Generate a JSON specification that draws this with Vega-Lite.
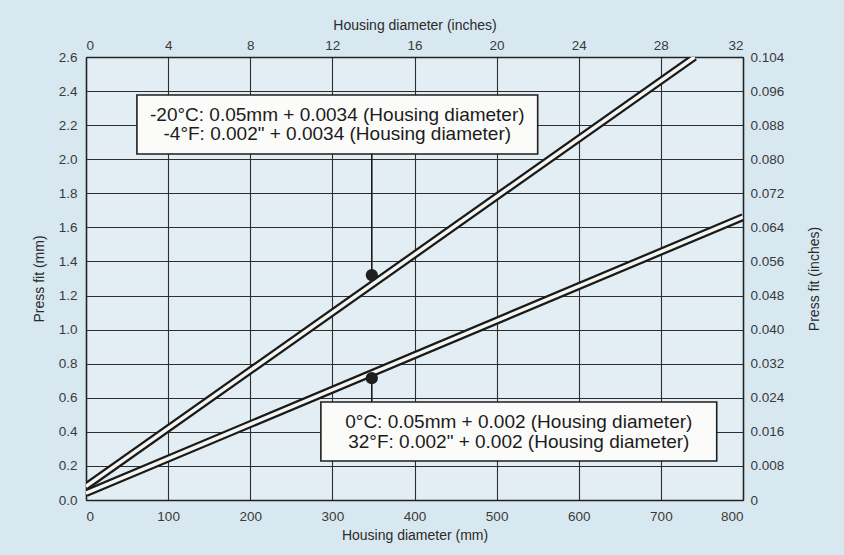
{
  "$schema": "https://vega.github.io/schema/vega-lite/v6.json",
  "width": 657,
  "height": 443,
  "autosize": "none",
  "padding": {"left": 86, "top": 57, "right": 101, "bottom": 55},
  "background": "#d8e8f0",
  "config": {
    "view": {"fill": "#e3eef4", "stroke": null},
    "axis": {
      "ticks": false,
      "labelOverlap": false,
      "labelFont": "Liberation Sans",
      "titleFont": "Liberation Sans",
      "labelFontSize": 13.5,
      "titleFontSize": 14,
      "titleFontWeight": "normal",
      "labelColor": "#3a3a3a",
      "titleColor": "#2a2a2a",
      "domainColor": "#222",
      "domainWidth": 1.5,
      "gridColor": "#2e2e2e",
      "gridWidth": 1.1,
      "gridOpacity": 1
    }
  },
  "layer": [
    {
      "encoding": {
        "x": {"field": "D", "type": "quantitative", "scale": {"domain": [0, 800], "nice": false}, "axis": {"orient": "bottom", "title": "Housing diameter (mm)", "values": [0, 100, 200, 300, 400, 500, 600, 700, 800], "labelPadding": 9, "titlePadding": 6, "grid": true}},
        "y": {"field": "P", "type": "quantitative", "scale": {"domain": [0, 2.6], "nice": false}, "axis": {"orient": "left", "title": "Press fit (mm)", "values": [0, 0.2, 0.4, 0.6, 0.8, 1.0, 1.2, 1.4, 1.6, 1.8, 2.0, 2.2, 2.4, 2.6], "format": ".1f", "labelPadding": 9, "titlePadding": 12, "grid": true}}
      },
      "layer": [
        {
          "data": {"values": [
            {"s": "A", "D": 0, "P": 0.08},
            {"s": "A", "D": 741, "P": 2.6},
            {"s": "B", "D": 0, "P": 0.04},
            {"s": "B", "D": 800, "P": 1.66}
          ]},
          "layer": [
            {
              "mark": {"type": "line", "color": "#1a1a1a", "strokeWidth": 8, "clip": true},
              "encoding": {"detail": {"field": "s"}}
            },
            {
              "mark": {"type": "line", "color": "#f5f6f2", "strokeWidth": 3.5, "clip": true},
              "encoding": {"detail": {"field": "s"}}
            }
          ]
        },
        {
          "data": {"values": [
            {"D": 348, "P": 1.32, "P2": 2.04},
            {"D": 348, "P": 0.715, "P2": 0.575}
          ]},
          "layer": [
            {
              "mark": {"type": "rule", "color": "#1a1a1a", "strokeWidth": 1.6},
              "encoding": {"y2": {"field": "P2"}}
            },
            {
              "mark": {"type": "point", "filled": true, "color": "#1e1e1e", "size": 150, "opacity": 1, "shape": "circle"},
              "encoding": {}
            }
          ]
        },
        {
          "data": {"values": [
            {"D": 62, "D2": 550, "P": 2.031, "P2": 2.377},
            {"D": 286, "D2": 768, "P": 0.229, "P2": 0.575}
          ]},
          "mark": {"type": "rect", "fill": "#fbfbfa", "stroke": "#1e1e1e", "strokeWidth": 1.6},
          "encoding": {
            "x2": {"field": "D2"},
            "y2": {"field": "P2"}
          }
        },
        {
          "data": {"values": [
            {"D": 306, "P": 2.26, "label": "-20°C: 0.05mm + 0.0034 (Housing diameter)"},
            {"D": 306, "P": 2.148, "label": "-4°F: 0.002\" + 0.0034 (Housing diameter)"},
            {"D": 527, "P": 0.458, "label": "0°C: 0.05mm + 0.002 (Housing diameter)"},
            {"D": 527, "P": 0.34, "label": "32°F: 0.002\" + 0.002 (Housing diameter)"}
          ]},
          "mark": {"type": "text", "font": "Liberation Sans", "fontSize": 19, "color": "#1c1c1c", "align": "center", "baseline": "middle"},
          "encoding": {
            "text": {"field": "label"}
          }
        }
      ]
    },
    {
      "data": {"values": [
        {"Din": 0, "Pin": 0},
        {"Din": 32, "Pin": 0.104}
      ]},
      "mark": {"type": "point", "opacity": 0},
      "encoding": {
        "x": {"field": "Din", "type": "quantitative", "scale": {"domain": [0, 32], "nice": false}, "axis": {"orient": "top", "title": "Housing diameter (inches)", "values": [0, 4, 8, 12, 16, 20, 24, 28, 32], "labelPadding": 5, "titlePadding": 6, "grid": false}},
        "y": {"field": "Pin", "type": "quantitative", "scale": {"domain": [0, 0.104], "nice": false}, "axis": {"orient": "right", "title": "Press fit (inches)", "titleAngle": 270, "titleBaseline": "top", "values": [0, 0.008, 0.016, 0.024, 0.032, 0.04, 0.048, 0.056, 0.064, 0.072, 0.08, 0.088, 0.096, 0.104], "labelExpr": "datum.value == 0 ? '0' : format(datum.value, '.3f')", "labelPadding": 7, "titlePadding": 24, "grid": false}}
      }
    }
  ],
  "resolve": {"scale": {"x": "independent", "y": "independent"}}
}
